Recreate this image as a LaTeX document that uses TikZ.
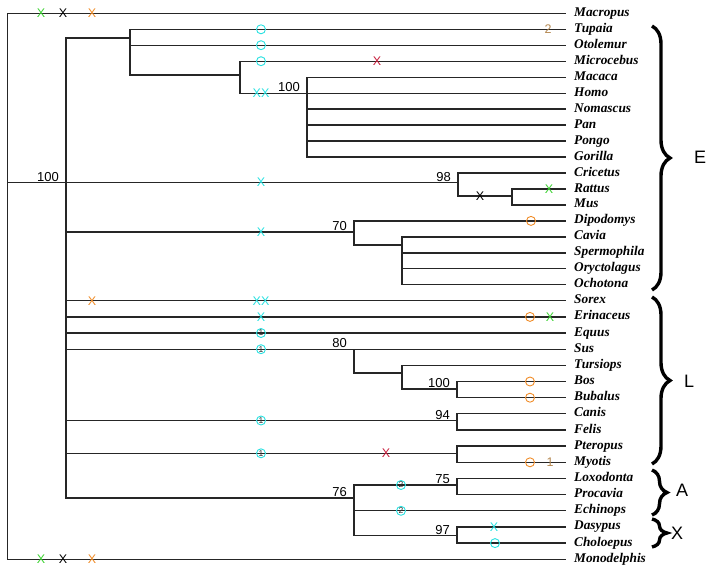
\documentclass[tikz,border=0pt]{standalone}
\usepackage{fontspec}
\setmainfont{Liberation Serif}
\setsansfont{Liberation Sans}
\usetikzlibrary{decorations.pathreplacing}

\definecolor{mkgreen}{RGB}{60,210,50}
\definecolor{mkorange}{RGB}{240,140,40}
\definecolor{mkcyan}{RGB}{40,225,225}
\definecolor{mkred}{RGB}{200,30,60}
\definecolor{mkbrown}{RGB}{180,135,80}

\begin{document}
\begin{tikzpicture}[x=1pt, y=-1pt,
  br/.style={draw=black!85, line width=1.3pt},
  taxon/.style={anchor=west, inner xsep=8pt, inner ysep=0pt, text height=9pt,
                text depth=3pt, font=\fontsize{13.3}{14}\selectfont\bfseries\itshape},
  bs/.style={anchor=south east, inner sep=0pt, xshift=-7pt, yshift=1pt,
             font=\sffamily\fontsize{13}{14}\selectfont},
  cx/.style={inner sep=0pt, font=\sffamily\fontsize{12.5}{12.5}\selectfont},
  co/.style={circle, draw=#1, line width=0.9pt, minimum size=9pt, inner sep=0pt,
             text=black!80, font=\sffamily\fontsize{8.5}{8.5}\selectfont},
  co/.default=mkcyan,
  grp/.style={decorate, decoration={brace, amplitude=#1}, line width=3.4pt},
  grplbl/.style={font=\sffamily\fontsize{18}{18}\selectfont}]

\useasboundingbox (0,0) rectangle (715,571);

% taxa
\node[taxon] (Macropus)    at (566,13.3)  {Macropus};
\node[taxon] (Tupaia)      at (566,29.3)  {Tupaia};
\node[taxon] (Otolemur)    at (566,45.2)  {Otolemur};
\node[taxon] (Microcebus)  at (566,61.2)  {Microcebus};
\node[taxon] (Macaca)      at (566,77.2)  {Macaca};
\node[taxon] (Homo)        at (566,93.2)  {Homo};
\node[taxon] (Nomascus)    at (566,109.1) {Nomascus};
\node[taxon] (Pan)         at (566,125.1) {Pan};
\node[taxon] (Pongo)       at (566,141.1) {Pongo};
\node[taxon] (Gorilla)     at (566,157.0) {Gorilla};
\node[taxon] (Cricetus)    at (566,173.0) {Cricetus};
\node[taxon] (Rattus)      at (566,189.0) {Rattus};
\node[taxon] (Mus)         at (566,204.9) {Mus};
\node[taxon] (Dipodomys)   at (566,220.9) {Dipodomys};
\node[taxon] (Cavia)       at (566,236.9) {Cavia};
\node[taxon] (Spermophila) at (566,252.9) {Spermophila};
\node[taxon] (Oryctolagus) at (566,268.8) {Oryctolagus};
\node[taxon] (Ochotona)    at (566,284.8) {Ochotona};
\node[taxon] (Sorex)       at (566,300.7) {Sorex};
\node[taxon] (Erinaceus)   at (566,316.9) {Erinaceus};
\node[taxon] (Equus)       at (566,333.0) {Equus};
\node[taxon] (Sus)         at (566,349.2) {Sus};
\node[taxon] (Tursiops)    at (566,365.3) {Tursiops};
\node[taxon] (Bos)         at (566,381.5) {Bos};
\node[taxon] (Bubalus)     at (566,397.7) {Bubalus};
\node[taxon] (Canis)       at (566,413.8) {Canis};
\node[taxon] (Felis)       at (566,430.0) {Felis};
\node[taxon] (Pteropus)    at (566,446.1) {Pteropus};
\node[taxon] (Myotis)      at (566,462.3) {Myotis};
\node[taxon] (Loxodonta)   at (566,478.5) {Loxodonta};
\node[taxon] (Procavia)    at (566,494.6) {Procavia};
\node[taxon] (Echinops)    at (566,510.8) {Echinops};
\node[taxon] (Dasypus)     at (566,526.9) {Dasypus};
\node[taxon] (Choloepus)   at (566,543.1) {Choloepus};
\node[taxon] (Monodelphis) at (566,559.3) {Monodelphis};

% inner nodes of the tree
\coordinate (root)    at (7.5,182.5);
\coordinate (eu)      at (66,182.5);
\coordinate (eua)     at (130,38);
\coordinate (anth)    at (240,75);
\coordinate (cat)     at (307,93.2);
\coordinate (mur)     at (458,182.5);
\coordinate (murid)   at (512,196);
\coordinate (rod)     at (354,232);
\coordinate (glires)  at (402,245);
\coordinate (cet)     at (354,349.2);
\coordinate (cet2)    at (402,373);
\coordinate (bov)     at (457,389);
\coordinate (carn)    at (457,420.5);
\coordinate (chir)    at (457,453.3);
\coordinate (afx)     at (354,498);
\coordinate (afro)    at (457,485);
\coordinate (xen)     at (457,535.7);

% branches
\draw[br] (root) |- (Macropus.west) (root) |- (eu) (root) |- (Monodelphis.west);
\draw[br] (eu) |- (eua) (eu) |- (mur) (eu) |- (rod) (eu) |- (Sorex.west)
          (eu) |- (Erinaceus.west) (eu) |- (Equus.west) (eu) |- (cet)
          (eu) |- (carn) (eu) |- (chir) (eu) |- (afx);
\draw[br] (eua) |- (Tupaia.west) (eua) |- (Otolemur.west) (eua) |- (anth);
\draw[br] (anth) |- (Microcebus.west) (anth) |- (cat);
\draw[br] (cat) |- (Macaca.west) (cat) |- (Homo.west) (cat) |- (Nomascus.west)
          (cat) |- (Pan.west) (cat) |- (Pongo.west) (cat) |- (Gorilla.west);
\draw[br] (mur) |- (Cricetus.west) (mur) |- (murid);
\draw[br] (murid) |- (Rattus.west) (murid) |- (Mus.west);
\draw[br] (rod) |- (Dipodomys.west) (rod) |- (glires);
\draw[br] (glires) |- (Cavia.west) (glires) |- (Spermophila.west)
          (glires) |- (Oryctolagus.west) (glires) |- (Ochotona.west);
\draw[br] (cet) |- (Sus.west) (cet) |- (cet2);
\draw[br] (cet2) |- (Tursiops.west) (cet2) |- (bov);
\draw[br] (bov) |- (Bos.west) (bov) |- (Bubalus.west);
\draw[br] (carn) |- (Canis.west) (carn) |- (Felis.west);
\draw[br] (chir) |- (Pteropus.west) (chir) |- (Myotis.west);
\draw[br] (afx) |- (afro) (afx) |- (Echinops.west) (afx) |- (xen);
\draw[br] (afro) |- (Loxodonta.west) (afro) |- (Procavia.west);
\draw[br] (xen) |- (Dasypus.west) (xen) |- (Choloepus.west);

% bootstrap values
\node[bs] (bs-eu)   at (eu)   {100};
\node[bs] (bs-cat)  at (cat)  {100};
\node[bs] (bs-mur)  at (mur)  {98};
\node[bs] (bs-rod)  at (rod)  {70};
\node[bs] (bs-cet)  at (cet)  {80};
\node[bs] (bs-bov)  at (bov)  {100};
\node[bs] (bs-carn) at (carn) {94};
\node[bs] (bs-afx)  at (afx)  {76};
\node[bs] (bs-afro) at (afro) {75};
\node[bs] (bs-xen)  at (xen)  {97};

% marks on the branches
\node[cx, text=mkgreen]  (mk1)  at (41,13.3)   {X};
\node[cx, text=black]    (mk2)  at (63,13.3)   {X};
\node[cx, text=mkorange] (mk3)  at (92,13.3)   {X};
\node[cx, text=mkgreen]  (mk4)  at (41,559.3)  {X};
\node[cx, text=black]    (mk5)  at (63,559.3)  {X};
\node[cx, text=mkorange] (mk6)  at (92,559.3)  {X};
\node[co]                (mk7)  at (261,29.3)  {};
\node[co]                (mk8)  at (261,45.2)  {};
\node[co]                (mk9)  at (261,61.2)  {};
\node[cx, text=mkred]    (mk10) at (377,61.2)  {X};
\node[cx, text=mkcyan]   (mk11) at (261,93.2)  {XX};
\node[cx, text=mkbrown]  (mk12) at (548,29.3)  {2};
\node[cx, text=mkcyan]   (mk13) at (261,182.5) {X};
\node[cx, text=black]    (mk14) at (480,196)   {X};
\node[cx, text=mkgreen]  (mk15) at (549,189)   {X};
\node[co=mkorange]       (mk16) at (531,220.9) {};
\node[cx, text=mkcyan]   (mk17) at (261,232)   {X};
\node[cx, text=mkorange] (mk18) at (92,300.7)  {X};
\node[cx, text=mkcyan]   (mk19) at (261,300.7) {XX};
\node[cx, text=mkcyan]   (mk20) at (261,316.9) {X};
\node[co=mkorange]       (mk21) at (530,316.9) {};
\node[cx, text=mkgreen]  (mk22) at (550,316.9) {X};
\node[co]                (mk23) at (261,333)   {1};
\node[co]                (mk24) at (261,349.2) {1};
\node[co=mkorange]       (mk25) at (530,381.5) {};
\node[co=mkorange]       (mk26) at (530,397.7) {};
\node[co]                (mk27) at (261,420.5) {1};
\node[co]                (mk28) at (261,453.3) {1};
\node[cx, text=mkred]    (mk29) at (386,453.3) {X};
\node[co=mkorange]       (mk30) at (530,462.3) {};
\node[cx, text=mkbrown]  (mk31) at (550,462.3) {1};
\node[co]                (mk32) at (401,485)   {2};
\node[co]                (mk33) at (401,510.8) {2};
\node[cx, text=mkcyan]   (mk34) at (494,526.9) {X};
\node[co]                (mk35) at (495,543.1) {};

% groups
\draw[grp=18pt] (652,26) -- (652,290);
\draw[grp=18pt] (652,297) -- (652,464);
\draw[grp=15pt] (652,470) -- (652,515);
\draw[grp=15pt] (652,519) -- (652,547);
\node[grplbl] (gE) at (700,157) {E};
\node[grplbl] (gL) at (689,381) {L};
\node[grplbl] (gA) at (682,490) {A};
\node[grplbl] (gX) at (677,533) {X};
\end{tikzpicture}
\end{document}
